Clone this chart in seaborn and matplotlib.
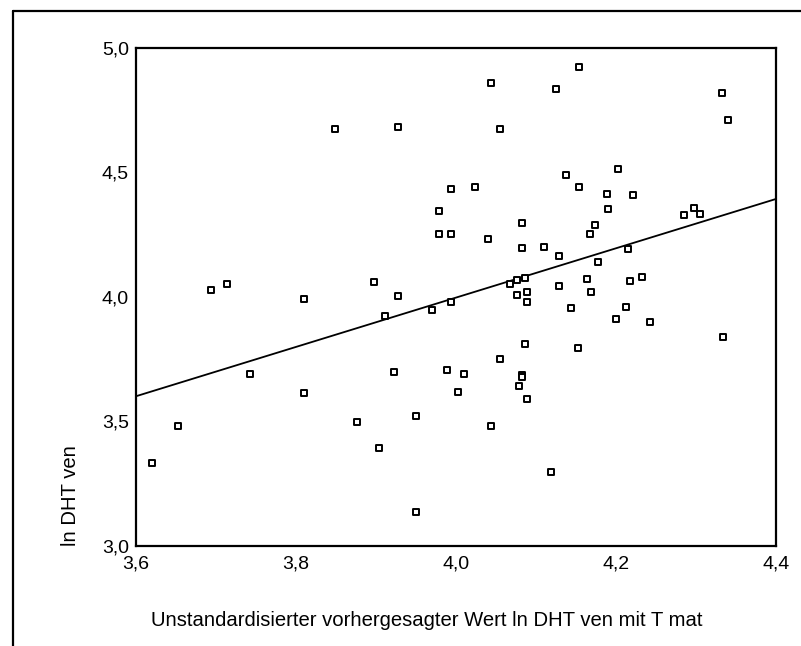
import matplotlib
matplotlib.use("Agg")
import matplotlib.pyplot as plt
from matplotlib.lines import Line2D
from matplotlib.ticker import FixedLocator, FixedFormatter
import seaborn as sns
import pandas as pd

# ---- data ----
predicted = [
    3.849, 4.154, 4.044, 4.125, 3.928, 4.055, 4.138, 3.994, 4.024, 4.154,
    3.979, 4.083, 4.174, 4.332, 4.340, 4.202, 4.189, 4.221, 4.190, 4.285,
    4.297, 4.305, 3.694, 3.714, 3.810, 3.742, 3.810, 3.876, 3.979, 3.994,
    4.040, 4.168, 4.083, 4.110, 4.129, 4.177, 3.898, 3.928, 3.911, 3.970,
    3.994, 4.068, 4.076, 4.086, 4.076, 4.089, 4.089, 4.129, 4.164, 4.169,
    4.144, 4.086, 4.153, 4.055, 3.923, 3.989, 4.010, 4.083, 4.083, 4.079,
    4.003, 4.089, 3.950, 4.215, 4.218, 4.233, 4.213, 4.200, 4.243, 4.334,
    3.620, 3.653, 3.904, 4.044, 4.119, 3.950,
]
ln_dht_ven = [
    4.671, 4.920, 4.856, 4.835, 4.680, 4.671, 4.487, 4.433, 4.438, 4.438,
    4.345, 4.296, 4.286, 4.816, 4.708, 4.511, 4.413, 4.406, 4.350, 4.326,
    4.354, 4.331, 4.027, 4.049, 3.991, 3.690, 3.611, 3.497, 4.252, 4.252,
    4.232, 4.252, 4.196, 4.198, 4.161, 4.140, 4.059, 4.003, 3.923, 3.948,
    3.978, 4.049, 4.066, 4.074, 4.007, 4.017, 3.977, 4.043, 4.069, 4.017,
    3.955, 3.810, 3.792, 3.748, 3.698, 3.706, 3.690, 3.686, 3.678, 3.643,
    3.618, 3.590, 3.521, 4.192, 4.063, 4.080, 3.957, 3.911, 3.899, 3.836,
    3.330, 3.481, 3.393, 3.481, 3.296, 3.136,
]
fit_x = [3.6, 4.4]
fit_y = [3.600, 4.392]

x_ticks = [3.6, 3.8, 4.0, 4.2, 4.4]
x_tick_labels = ["3,6", "3,8", "4,0", "4,2", "4,4"]
y_ticks = [3.0, 3.5, 4.0, 4.5, 5.0]
y_tick_labels = ["3,0", "3,5", "4,0", "4,5", "5,0"]

x_label = "Unstandardisierter vorhergesagter Wert ln DHT ven mit T mat"
y_label = "ln DHT ven"

# ---- style ----
sns.set_theme(style="white")
plt.rcParams["font.family"] = ["Liberation Sans", "DejaVu Sans"]

W, H = 801, 646
fig = plt.figure(figsize=(W / 100, H / 100), dpi=100)
fig.patch.set_facecolor("white")

ax_l, ax_r, ax_t, ax_b = 136, 776, 47.5, 545.7
ax = fig.add_axes([ax_l / W, 1 - ax_b / H, (ax_r - ax_l) / W, (ax_b - ax_t) / H])
ax.set_facecolor("white")

df = pd.DataFrame({"x": predicted, "y": ln_dht_ven})
sns.scatterplot(data=df, x="x", y="y", ax=ax, marker="s", s=20,
                facecolor="white", edgecolor="black", linewidth=1.4, zorder=3)

fit = pd.DataFrame({"x": fit_x, "y": fit_y})
sns.lineplot(data=fit, x="x", y="y", ax=ax, color="black", linewidth=1.3, zorder=2)

ax.set_xlim(3.6, 4.4)
ax.set_ylim(3.0, 5.0)
ax.xaxis.set_major_locator(FixedLocator(x_ticks))
ax.xaxis.set_major_formatter(FixedFormatter(x_tick_labels))
ax.yaxis.set_major_locator(FixedLocator(y_ticks))
ax.yaxis.set_major_formatter(FixedFormatter(y_tick_labels))
ax.tick_params(axis="both", which="major", direction="out", length=2, width=1.5,
               color="black", labelcolor="black", labelsize=14)
ax.tick_params(axis="x", pad=5)
ax.tick_params(axis="y", pad=3)

for sp in ax.spines.values():
    sp.set_visible(True)
    sp.set_color("black")
    sp.set_linewidth(1.6)

ax.set_xlabel(x_label, fontsize=14.6, color="black")
ax.set_ylabel(y_label, fontsize=14.6, color="black")
ax.xaxis.set_label_coords((427 - ax_l) / (ax_r - ax_l), -(620 - ax_b) / (ax_b - ax_t))
ax.xaxis.label.set_va("center")
ax.yaxis.set_label_coords(-(ax_l - 70) / (ax_r - ax_l), (ax_b - 496) / (ax_b - ax_t))
ax.yaxis.label.set_va("center")

# outer frame (left and top edges visible in reference)
fx, fy = 12.5 / W, 1 - 10.5 / H
fig.add_artist(Line2D([fx, fx], [0, fy], transform=fig.transFigure, color="black", linewidth=1.6))
fig.add_artist(Line2D([fx, 1], [fy, fy], transform=fig.transFigure, color="black", linewidth=1.6))

fig.savefig("out.png", dpi=100, facecolor="white")
